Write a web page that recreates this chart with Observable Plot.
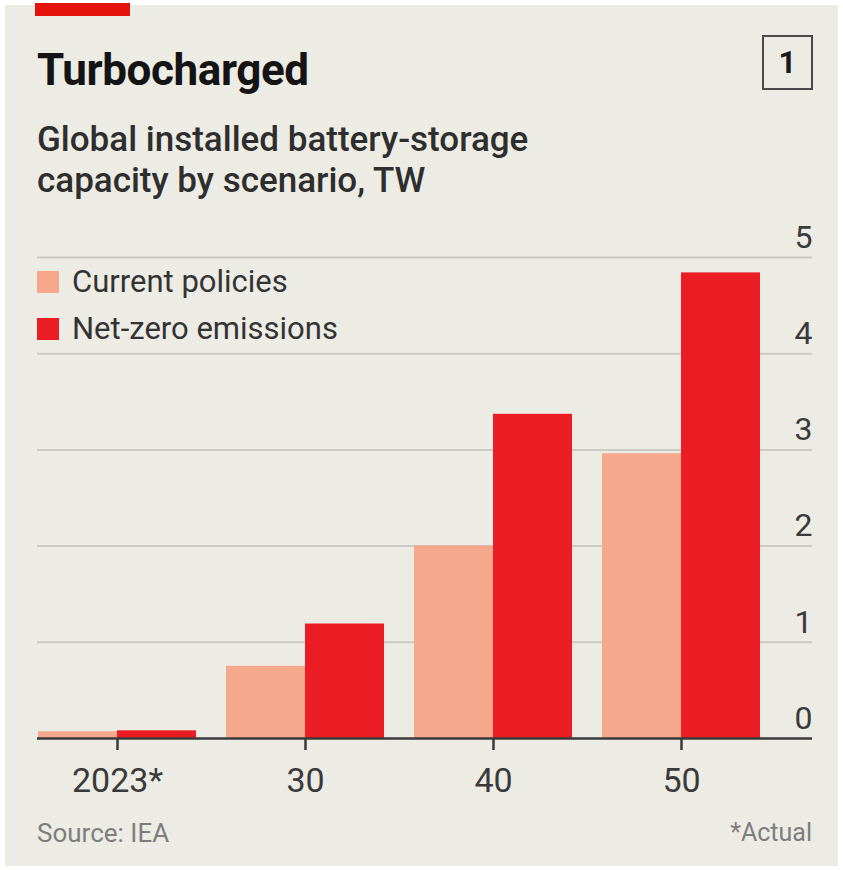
<!DOCTYPE html>
<html>
<head>
<meta charset="utf-8">
<script src="https://cdn.jsdelivr.net/npm/d3@7"></script>
<script src="https://cdn.jsdelivr.net/npm/@observablehq/plot@0.6"></script>
<style>
  html, body { margin: 0; padding: 0; background: #ffffff; }
  #card { position: absolute; left: 5px; top: 5px; width: 833px; height: 861px; background: #ecebe4; }
  .abs { position: absolute; white-space: nowrap; font-family: Roboto, "Open Sans", sans-serif; line-height: 1; }
  #redbar { position: absolute; left: 35px; top: 3px; width: 95px; height: 13px; background: #e3120b; }
  #title { left: 37px; top: 48px; font-size: 44px; font-weight: 700; color: #141414; letter-spacing: -0.4px; }
  #subtitle { left: 37px; top: 119px; font-size: 35px; font-weight: 500; color: #2e2e2e; line-height: 41px; white-space: normal; width: 580px; letter-spacing: 0px; }
  #num { left: 762px; top: 35px; width: 47px; height: 51px; border: 2.5px solid #4a4a4a; font-size: 31px; font-weight: 700; color: #1a1a1a; display: flex; align-items: center; justify-content: center; box-sizing: content-box; }
  .leg { left: 37px; font-size: 31px; color: #333; display: flex; align-items: center; }
  .sw { width: 22px; height: 22px; margin-right: 13px; display: inline-block; }
  #source { left: 37px; top: 820px; font-size: 26px; color: #7d7d7d; }
  #note { right: 31px; top: 820px; font-size: 25px; color: #7d7d7d; }
  #chart { position: absolute; left: 0; top: 210px; }
</style>
</head>
<body>
<div id="card"></div>
<div id="redbar"></div>
<div class="abs" id="title">Turbocharged</div>
<div class="abs" id="subtitle">Global installed battery-storage capacity by scenario, TW</div>
<div class="abs" id="num">1</div>
<div id="chart"></div>
<div class="abs leg" id="leg1" style="top:266px"></div>
<div class="abs leg" id="leg2" style="top:313px"></div>
<div class="abs" id="source">Source: IEA</div>
<div class="abs" id="note">*Actual</div>
<script>
// ---- data ----
const years = ["2023*", "30", "40", "50"];
const currentPolicies = [0.07, 0.75, 2.0, 2.96];
const netZero = [0.08, 1.19, 3.37, 4.84];
const yTicks = [0, 1, 2, 3, 4, 5];
const seriesNames = ["Current policies", "Net-zero emissions"];
const seriesColors = ["#f5a88c", "#ec1c24"];

const current = years.map((y, i) => ({year: y, value: currentPolicies[i]}));
const nz = years.map((y, i) => ({year: y, value: netZero[i]}));

const half = 79;

const chart = Plot.plot({
  width: 843,
  height: 600,
  marginLeft: 37,
  marginRight: 31,
  marginTop: 47,
  marginBottom: 72,
  style: {background: "transparent", fontFamily: "Roboto, sans-serif"},
  x: {domain: years, range: [37, 760], paddingInner: 0.16, paddingOuter: 0, label: null},
  y: {domain: [0, 5], label: null, axis: null},
  marks: [
    Plot.ruleY(yTicks.filter(d => d > 0), {stroke: "#cbc9c2", strokeWidth: 2}),
    Plot.barY(current, {x: "year", y: "value", fill: seriesColors[0], insetRight: half}),
    Plot.barY(nz, {x: "year", y: "value", fill: seriesColors[1], insetLeft: half}),
    Plot.ruleY([0], {stroke: "#3a3a3a", strokeWidth: 2.5}),
    Plot.axisX({tickSize: 12, tickPadding: 17, fontSize: 34, color: "#3a3a3a", stroke: "#3a3a3a", strokeWidth: 2.5, label: null}),
    Plot.text(yTicks, {y: d => d, text: d => String(d), frameAnchor: "right", textAnchor: "end", dy: -20, fontSize: 32, fill: "#3a3a3a"})
  ]
});
document.getElementById("chart").appendChild(chart);

// legend
[["leg1", 0], ["leg2", 1]].forEach(([id, i]) => {
  const el = document.getElementById(id);
  const sw = document.createElement("span");
  sw.className = "sw";
  sw.style.background = seriesColors[i];
  el.appendChild(sw);
  const t = document.createElement("span");
  t.textContent = seriesNames[i];
  el.appendChild(t);
});
</script>
</body>
</html>
